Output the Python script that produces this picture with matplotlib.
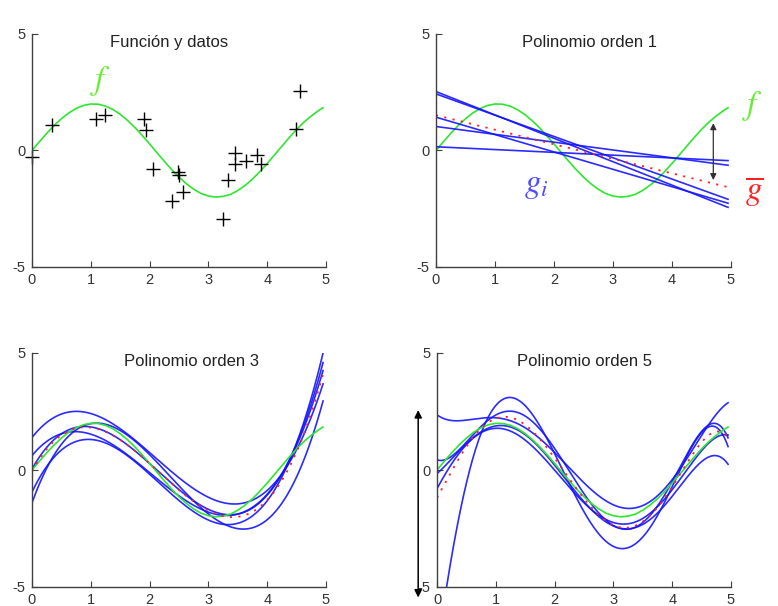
import numpy as np
import matplotlib
matplotlib.use('Agg')
import matplotlib.pyplot as plt

plt.rcParams['font.family'] = ['Liberation Sans', 'DejaVu Sans']
plt.rcParams['mathtext.fontset'] = 'stix'

# ---- target function f ----
f_x = [0.0, 0.125, 0.25, 0.375, 0.5, 0.625, 0.75, 0.875, 1.0, 1.125, 1.25, 1.375,
       1.5, 1.625, 1.75, 1.875, 2.0, 2.125, 2.25, 2.375, 2.5, 2.625, 2.75, 2.875,
       3.0, 3.125, 3.25, 3.375, 3.5, 3.625, 3.75, 3.875, 4.0, 4.125, 4.25, 4.375,
       4.5, 4.625, 4.75, 4.875, 4.95]
f_y = [0.0, 0.373, 0.733, 1.067, 1.363, 1.612, 1.804, 1.934, 1.995, 1.987, 1.908, 1.763,
       1.556, 1.293, 0.988, 0.645, 0.282, -0.092, -0.461, -0.817, -1.143, -1.424, -1.662, -1.845,
       -1.955, -1.999, -1.970, -1.887, -1.718, -1.498, -1.228, -0.908, -0.559, -0.191, 0.184, 0.553,
       0.901, 1.216, 1.483, 1.716, 1.837]

# ---- sample data (panel 1) ----
data_x = [0.0, 0.34, 1.08, 1.24, 1.91, 1.94, 2.06, 2.38, 2.49, 2.50,
          2.57, 3.25, 3.34, 3.45, 3.45, 3.64, 3.83, 3.89, 4.49, 4.56]
data_y = [-0.29, 1.08, 1.36, 1.51, 1.37, 0.88, -0.81, -2.16, -0.94, -1.07,
          -1.76, -2.95, -1.27, -0.09, -0.58, -0.47, -0.19, -0.58, 0.92, 2.57]

# ---- order-1 fits: values read at x=0 and x=5 ----
lin_x = [0.0, 5.0]
lin_y = [[2.53, -2.49],
         [2.43, -2.14],
         [1.43, -2.30],
         [1.03, -0.65],
         [0.16, -0.44]]

# ---- order-3 fits: values read at cub_x ----
cub_x = [0.0, 0.75, 2.0, 3.4, 4.95]
cub_y = [[1.35, 2.60, 0.65, -1.40, 3.67],
         [0.615, 1.64, -0.11, -1.93, 4.25],
         [-0.95, 1.25, -0.21, -2.31, 5.00],
         [0.07, 1.75, 0.35, -1.95, 4.60],
         [-1.40, 1.71, 0.66, -2.45, 2.95]]

# ---- order-5 fits: values read at qui_x ----
qui_x = [0.0, 0.15, 0.3, 0.5, 0.75, 1.0, 1.25, 1.6, 2.0, 2.5, 2.9, 3.2,
         3.6, 4.0, 4.3, 4.6, 4.8, 4.95]
qui_y = [[2.42, 2.15, 2.07, 2.07, 2.15, 2.25, 2.22, 1.75, 0.70, -0.65, -1.50, -1.62,
          -1.20, -0.30, 0.60, 1.75, 2.45, 3.00],
         [-8.00, -4.90, -3.00, -0.60, 1.75, 2.75, 2.90, 2.20, 0.80, -1.40, -3.10, -3.50,
          -2.60, -0.90, 0.80, 2.15, 1.80, 0.80],
         [0.57, 0.38, 0.60, 1.10, 1.80, 2.45, 2.68, 2.20, 0.80, -1.10, -2.30, -2.60,
          -1.70, -0.45, 0.80, 1.83, 1.75, 1.55],
         [-0.21, 0.25, 0.65, 1.10, 1.75, 1.85, 1.70, 1.25, 0.30, -1.20, -2.30, -2.65,
          -2.20, -1.00, -0.20, 0.50, 0.64, 0.21],
         [-0.78, -0.15, 0.45, 1.00, 1.75, 1.80, 1.55, 1.00, 0.10, -1.30, -2.25, -2.40,
          -1.90, -0.70, 0.20, 1.00, 1.40, 1.57]]

titles = ['Función y datos', 'Polinomio orden 1', 'Polinomio orden 3', 'Polinomio orden 5']
title_pos = [0.466, 0.519, 0.544, 0.503]
xticks = [0, 1, 2, 3, 4, 5]
yticks = [-5, 0, 5]

GREEN = '#2ee62e'
BLUE = '#1414ff'
RED = '#ff2020'
TXT = '#333333'

W, H = 778, 606
fig = plt.figure(figsize=(W / 100, H / 100), dpi=100)
rects = [(32, 34, 294, 233), (436, 34, 295, 233), (32, 353, 294, 234), (437, 353, 294, 234)]
axes = []
for (l, t, w, h) in rects:
    ax = fig.add_axes([l / W, 1 - (t + h) / H, w / W, h / H])
    ax.set_xlim(0, 5)
    ax.set_ylim(-5, 5)
    ax.set_xticks(xticks)
    ax.set_yticks(yticks)
    ax.set_xticklabels([str(v) for v in xticks])
    ax.set_yticklabels([str(v) for v in yticks])
    for s in ['top', 'right']:
        ax.spines[s].set_visible(False)
    for s in ['left', 'bottom']:
        ax.spines[s].set_color('#404040')
        ax.spines[s].set_linewidth(1.0)
    ax.tick_params(direction='in', length=4, width=0.8, colors='#404040',
                   labelcolor=TXT, labelsize=10.5, pad=4.5)
    axes.append(ax)

for ax, t, p in zip(axes, titles, title_pos):
    ax.text(p, 0.965, t, transform=ax.transAxes, ha='center', va='center',
            fontsize=12, color='#222222')

xx = np.linspace(0, 4.95, 400)

# Panel 1
ax = axes[0]
ax.plot(f_x, f_y, color=GREEN, lw=1.2)
ax.plot(data_x, data_y, '+', color='black', ms=10, mew=1.0, clip_on=False)
ax.text(1.16, 3.0, '$f$', color='#66ee33', fontsize=24, ha='center', va='center')

# Panel 2
ax = axes[1]
ax.plot(f_x, f_y, color=GREEN, lw=1.2)
fits = [np.polyval(np.polyfit(lin_x, ys, 1), xx) for ys in lin_y]
for yy in fits:
    ax.plot(xx, yy, color=BLUE, lw=1.2, alpha=0.9)
ax.plot(xx, np.mean(fits, axis=0), color=RED, lw=1.3, ls=(0, (1.2, 3.5)))
ax.annotate('', xy=(4.7, 1.17), xytext=(4.7, -1.27),
            arrowprops=dict(arrowstyle='<|-|>', color='#303030', lw=0.9,
                            mutation_scale=9, shrinkA=0, shrinkB=0))
ax.text(5.37, 1.9, '$f$', color='#66ee33', fontsize=24, ha='center', va='center')
ax.text(1.71, -1.52, '$g_i$', color='#4d4dff', fontsize=24, ha='center', va='center')
ax.text(5.4, -1.75, r'$\overline{g}$', color=RED, fontsize=24, ha='center', va='center')

# Panel 3
ax = axes[2]
fits = [np.polyval(np.polyfit(cub_x, ys, 3), xx) for ys in cub_y]
for yy in fits:
    ax.plot(xx, yy, color=BLUE, lw=1.2, alpha=0.9)
ax.plot(f_x, f_y, color=GREEN, lw=1.2)
ax.plot(xx, np.mean(fits, axis=0), color=RED, lw=1.3, ls=(0, (1.2, 3.5)))

# Panel 4
ax = axes[3]
fits = [np.polyval(np.polyfit(qui_x, ys, 5), xx) for ys in qui_y]
for yy in fits:
    ax.plot(xx, yy, color=BLUE, lw=1.2, alpha=0.9)
ax.plot(f_x, f_y, color=GREEN, lw=1.2)
ax.plot(xx, np.mean(fits, axis=0), color=RED, lw=1.3, ls=(0, (1.2, 3.5)))
ax.annotate('', xy=(-0.32, 2.56), xytext=(-0.32, -5.45), xycoords='data',
            arrowprops=dict(arrowstyle='<|-|>', color='black', lw=1.1,
                            mutation_scale=11, shrinkA=0, shrinkB=0),
            annotation_clip=False)

fig.savefig('out.png', dpi=100, facecolor='white')
